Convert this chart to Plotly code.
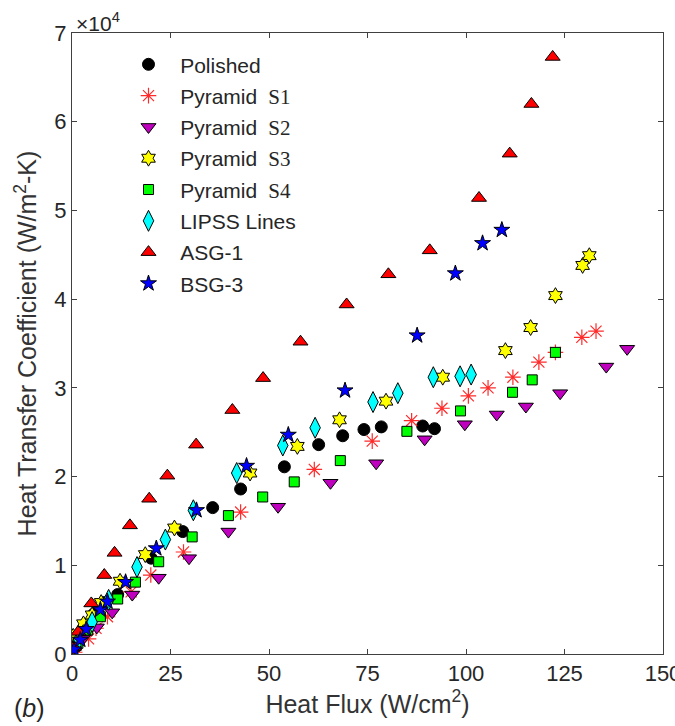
import plotly.graph_objects as go

# ---- data (x: heat flux W/cm^2, y: HTC in units of 1e4 W/m^2-K) ----
polished_x = [1.0, 3.0, 5.5, 8.0, 11.6, 20.1, 28.1, 35.7, 42.8, 53.9, 62.6, 68.7, 74.1, 78.5, 89.0, 92.0]
polished_y = [0.08, 0.28, 0.45, 0.58, 0.67, 1.08, 1.38, 1.65, 1.86, 2.11, 2.36, 2.46, 2.53, 2.56, 2.57, 2.54]

s1_x = [0.7, 4.2, 6.1, 9.0, 15.0, 20.0, 28.3, 42.8, 61.5, 76.2, 86.2, 93.9, 100.6, 105.6, 111.9, 118.5, 122.7, 129.4, 133.0]
s1_y = [0.02, 0.17, 0.29, 0.42, 0.70, 0.89, 1.15, 1.60, 2.08, 2.40, 2.63, 2.77, 2.91, 3.00, 3.12, 3.29, 3.40, 3.57, 3.64]

s2_x = [2.7, 6.3, 10.2, 15.3, 22.0, 29.7, 39.7, 52.3, 65.6, 77.2, 89.5, 99.7, 107.8, 115.2, 123.9, 135.6, 140.9]
s2_y = [0.17, 0.30, 0.47, 0.67, 0.86, 1.08, 1.38, 1.66, 1.93, 2.15, 2.42, 2.59, 2.70, 2.79, 2.94, 3.24, 3.44]

s3_x = [0.3, 2.9, 5.1, 7.4, 12.2, 18.6, 26.0, 45.2, 57.2, 67.9, 79.7, 94.1, 110.0, 116.4, 122.7, 129.6, 131.3]
s3_y = [0.20, 0.34, 0.44, 0.58, 0.82, 1.12, 1.42, 2.04, 2.34, 2.64, 2.85, 3.12, 3.42, 3.68, 4.04, 4.38, 4.49]

s4_x = [1.5, 4.0, 7.2, 11.6, 16.1, 22.0, 30.5, 39.7, 48.4, 56.4, 68.1, 85.0, 98.6, 111.8, 116.8, 122.7]
s4_y = [0.12, 0.27, 0.42, 0.62, 0.81, 1.04, 1.32, 1.56, 1.77, 1.94, 2.18, 2.51, 2.74, 2.95, 3.09, 3.40]

lipss_x = [1.0, 5.1, 9.3, 16.5, 23.7, 30.8, 41.8, 53.5, 61.7, 76.4, 82.7, 91.7, 98.5, 101.3]
lipss_y = [0.10, 0.36, 0.61, 0.98, 1.29, 1.62, 2.04, 2.35, 2.55, 2.84, 2.94, 3.12, 3.13, 3.15]

asg_x = [0.5, 1.6, 4.9, 8.2, 10.8, 14.7, 19.6, 24.2, 31.5, 40.7, 48.5, 58.0, 69.7, 80.3, 90.8, 103.3, 111.1, 116.6, 122.0]
asg_y = [0.08, 0.25, 0.57, 0.89, 1.14, 1.45, 1.75, 2.01, 2.36, 2.75, 3.11, 3.52, 3.94, 4.28, 4.55, 5.14, 5.64, 6.20, 6.73]

bsg_x = [0.5, 2.1, 3.6, 7.2, 9.0, 13.6, 21.4, 31.6, 44.3, 54.9, 69.3, 87.6, 97.3, 104.2, 109.1]
bsg_y = [0.05, 0.16, 0.28, 0.50, 0.59, 0.81, 1.19, 1.62, 2.12, 2.47, 2.97, 3.59, 4.29, 4.63, 4.78]

x_ticks = [0, 25, 50, 75, 100, 125, 150]
y_ticks = [0, 1, 2, 3, 4, 5, 6, 7]
SCALE = 1e4

NB = "\u00a0\u00a0"
def sname(n):
    return NB + "Pyramid <span style=\"font-family:Liberation Serif\"> S%d</span>" % n

series = [
    (NB + "Polished", polished_x, polished_y, "circle", "#000000", 12, "#000000", 1),
    (sname(1), s1_x, s1_y, "asterisk-open", "#FF2A2A", 13, "#FF2A2A", 1.2),
    (sname(2), s2_x, s2_y, "triangle-down", "#BF00BF", 13, "#000000", 1),
    (sname(3), s3_x, s3_y, "hexagram", "#FFFF00", 12, "#000000", 1),
    (sname(4), s4_x, s4_y, "square", "#00FF00", 10, "#000000", 1),
    (NB + "LIPSS Lines", lipss_x, lipss_y, "diamond-tall", "#00FFFF", 15, "#000000", 1),
    (NB + "ASG-1", asg_x, asg_y, "triangle-up", "#FF0000", 13, "#000000", 1),
    (NB + "BSG-3", bsg_x, bsg_y, "star", "#0000FF", 12, "#000000", 1),
]

fig = go.Figure()
for i, (name, xs, ys, sym, col, size, lcol, lw) in enumerate(series):
    fig.add_trace(go.Scatter(
        x=xs, y=[v * SCALE for v in ys], mode="markers", name=name,
        legendgroup="g%d" % i,
        marker=dict(symbol=sym, color=col, size=size, line=dict(color=lcol, width=lw)),
    ))

font_main = "Arial, 'Liberation Sans', sans-serif"
axis_common = dict(
    showline=True, linecolor="#404040", linewidth=1, mirror="ticks",
    ticks="inside", ticklen=5, tickcolor="#404040", showgrid=False, zeroline=False,
    tickfont=dict(family=font_main, size=22, color="#262626"),
    automargin=False, ticklabeloverflow="allow",
)
fig.update_layout(
    width=675, height=726,
    margin=dict(l=72, r=12, t=33, b=72),
    paper_bgcolor="white", plot_bgcolor="white",
    font=dict(family=font_main, color="#262626"),
    showlegend=True,
    legend=dict(x=0.0956, y=0.982, xanchor="left", yanchor="top",
                bgcolor="rgba(0,0,0,0)", font=dict(family=font_main, size=21, color="#262626"),
                tracegroupgap=1),
    xaxis=dict(range=[0, 150], tickvals=x_ticks, ticktext=[str(t) for t in x_ticks],
               title=dict(text="Heat Flux (W/cm<sup>2</sup>)", font=dict(size=25, color="#333333"), standoff=6),
               **axis_common),
    yaxis=dict(range=[0, 7 * SCALE], tickvals=[t * SCALE for t in y_ticks], ticktext=[str(t) for t in y_ticks],
               title=dict(text="Heat Transfer Coefficient (W/m<sup>2</sup>-K)", font=dict(size=25, color="#333333"), standoff=10),
               **axis_common),
    annotations=[
        dict(text="×10<sup>4</sup>", xref="paper", yref="paper", x=0.004, y=1.0177, xanchor="left", yanchor="middle",
             showarrow=False, font=dict(family=font_main, size=21, color="#262626")),
        dict(text="(<i>b</i>)", xref="paper", yref="paper", x=-0.102, y=-0.087, xanchor="left", yanchor="middle",
             showarrow=False, font=dict(family=font_main, size=25, color="#262626")),
    ],
)

fig.write_html("out.html", config={"displayModeBar": False},
               post_script="document.body.style.margin='0px';document.body.style.overflow='hidden';")
